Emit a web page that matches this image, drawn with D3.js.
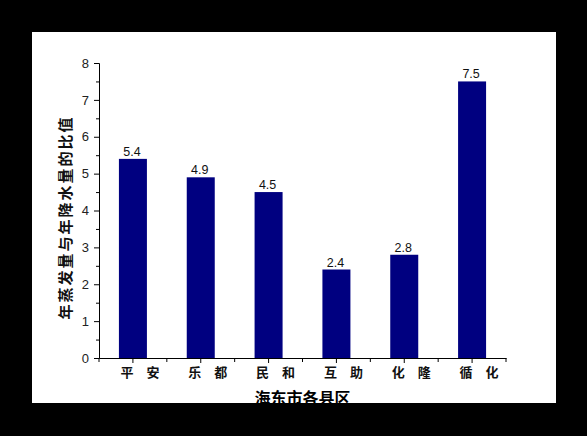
<!DOCTYPE html>
<html><head><meta charset="utf-8">
<script src="https://cdn.jsdelivr.net/npm/d3@7/dist/d3.min.js"></script>
<style>html,body{margin:0;padding:0;background:#000;}svg{display:block;}</style>
</head><body>
<script>
const categories = ["平　安","乐　都","民　和","互　助","化　隆","循　化"];
const values = [5.4, 4.9, 4.5, 2.4, 2.8, 7.5];
const yTicks = [0,1,2,3,4,5,6,7,8];
const yMinorTicks = [0.5,1.5,2.5,3.5,4.5,5.5,6.5,7.5];
const xTitle = "海东市各县区";
const yTitle = "年蒸发量与年降水量的比值";

const W = 587, H = 436;
const svg = d3.select("body").append("svg").attr("width", W).attr("height", H);
svg.append("rect").attr("width", W).attr("height", H).attr("fill", "#000");
svg.append("rect").attr("x", 32).attr("y", 32).attr("width", 524).attr("height", 371).attr("fill", "#fff");

const pLeft = 99, pRight = 506, pTop = 63, pBottom = 358;
const x = d3.scaleBand().domain(categories).range([pLeft, pRight]).paddingInner(0).paddingOuter(0);
const y = d3.scaleLinear().domain([0, 8]).range([pBottom, pTop]);
const barW = 28;

const g = svg.append("g");

// bars
g.selectAll("rect.bar").data(values).enter().append("rect")
  .attr("class","bar")
  .attr("x", (d,i) => x(categories[i]) + x.bandwidth()/2 - barW/2)
  .attr("y", d => y(d))
  .attr("width", barW)
  .attr("height", d => y(0) - y(d))
  .attr("fill", "#000080");

// value labels
g.selectAll("text.val").data(values).enter().append("text")
  .attr("class","val")
  .attr("x", (d,i) => x(categories[i]) + x.bandwidth()/2 - 1)
  .attr("y", d => y(d) - 3)
  .attr("text-anchor","middle")
  .attr("font-family","Liberation Sans, Arial, sans-serif")
  .attr("font-size", 12.5)
  .attr("fill","#111")
  .text(d => d.toFixed(1));

// y axis
const yAxis = d3.axisLeft(y).tickValues(yTicks).tickSize(5).tickPadding(5).tickFormat(d3.format("d"));
const ya = g.append("g").attr("transform", `translate(${pLeft},0)`).call(yAxis);
ya.select(".domain").attr("stroke","#000");
ya.selectAll(".tick line").attr("stroke","#000");
ya.selectAll(".tick text").attr("font-family","Liberation Sans, Arial, sans-serif").attr("font-size",13).attr("fill","#222");
const yMinor = d3.axisLeft(y).tickValues(yMinorTicks).tickSize(3).tickFormat("");
const ym = g.append("g").attr("transform", `translate(${pLeft},0)`).call(yMinor);
ym.select(".domain").remove();
ym.selectAll(".tick line").attr("stroke","#000");

// x axis
const xAxis = d3.axisBottom(x).tickSize(5).tickPadding(5).tickSizeOuter(0);
const xa = g.append("g").attr("transform", `translate(0,${pBottom})`).call(xAxis);
xa.select(".domain").attr("stroke","#000");
xa.selectAll(".tick line").attr("stroke","#000");
xa.selectAll(".tick text")
  .attr("font-family","Noto Sans CJK SC, sans-serif")
  .attr("font-weight","bold")
  .attr("font-size",13)
  .attr("fill","#111")
  .attr("dx", 7);
// minor x ticks at band boundaries
const bounds = categories.map(c => x(c)).concat([x(categories[categories.length-1]) + x.bandwidth()]);
g.selectAll("line.xminor").data(bounds).enter().append("line")
  .attr("class","xminor")
  .attr("x1", d => d).attr("x2", d => d)
  .attr("y1", pBottom).attr("y2", pBottom + 4)
  .attr("stroke","#000");

// axis titles
g.append("text")
  .attr("x", (pLeft+pRight)/2)
  .attr("y", 404)
  .attr("text-anchor","middle")
  .attr("font-family","Noto Sans CJK SC, sans-serif")
  .attr("font-weight","bold")
  .attr("font-size",16)
  .attr("fill","#000")
  .text(xTitle);

g.append("text")
  .attr("transform", `translate(71,${(115+320)/2}) rotate(-90)`)
  .attr("text-anchor","middle")
  .attr("font-family","Noto Sans CJK SC, sans-serif")
  .attr("font-weight","bold")
  .attr("font-size",15)
  .attr("letter-spacing", 2)
  .attr("fill","#111")
  .text(yTitle);

// bottom border clipping the title like the reference
svg.append("rect").attr("x", 0).attr("y", 403).attr("width", W).attr("height", H-403).attr("fill","#000");
</script>
</body></html>
